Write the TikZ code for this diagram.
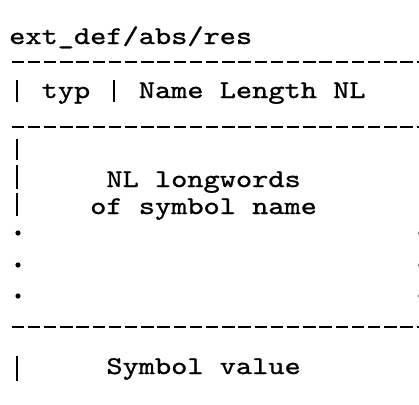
\documentclass[tikz,border=0pt]{standalone}
\usepackage{fontspec}
\newfontfamily\courfont{lmmono10-regular}[Extension=.otf, FakeStretch=1.21, FakeBold=1.0]
\begin{document}
\begin{tikzpicture}[x=1bp,y=-1bp,
  txt/.style={anchor=base west,inner sep=0pt,font=\fontsize{25.5bp}{28bp}\courfont},
  rule/.style={line width=2.8bp,dash pattern=on 12.5bp off 3.7bp},
  bar/.style={line width=2.6bp},
  dotmark/.style={fill=black}]
\useasboundingbox (0,0) rectangle (419,405);
% title
\node[txt] (title) at (9,44) {ext\_def/abs/res};
% rule 1
\coordinate (r1a) at (11.5,62); \coordinate (r1b) at (422,62);
\draw[rule] (r1a) -- (r1b);
% header row
\coordinate (b1a) at (17,80); \coordinate (b1b) at (17,102);
\draw[bar] (b1a) -- (b1b);
\node[txt] (typ) at (41.4,98) {typ};
\coordinate (b2a) at (114,80); \coordinate (b2b) at (114,102);
\draw[bar] (b2a) -- (b2b);
\node[txt] (namelen) at (138.6,98) {Name Length NL};
% rule 2
\coordinate (r2a) at (11.5,127); \coordinate (r2b) at (422,127);
\draw[rule] (r2a) -- (r2b);
% left bars of the name block
\coordinate (b3a) at (17,139); \coordinate (b3b) at (17,160);
\draw[bar] (b3a) -- (b3b);
\coordinate (b4a) at (17,165); \coordinate (b4b) at (17,189);
\draw[bar] (b4a) -- (b4b);
\coordinate (b5a) at (17,193); \coordinate (b5b) at (17,216);
\draw[bar] (b5a) -- (b5b);
\node[txt] (nlw) at (106.2,187) {NL longwords};
\node[txt] (ofsym) at (90,214) {of symbol name};
% dots
\fill[dotmark] (18,233) circle (2.6);
\fill[dotmark] (18,265) circle (2.6);
\fill[dotmark] (18,296) circle (2.6);
\fill[dotmark] (420.5,233) circle (2.2);
\fill[dotmark] (420.5,265) circle (2.2);
\fill[dotmark] (420.5,296) circle (2.2);
% rule 3
\coordinate (r3a) at (11.5,327); \coordinate (r3b) at (422,327);
\draw[rule] (r3a) -- (r3b);
% value row
\coordinate (b6a) at (17,356); \coordinate (b6b) at (17,381);
\draw[bar] (b6a) -- (b6b);
\node[txt] (symval) at (106.2,374) {Symbol value};
\end{tikzpicture}
\end{document}
